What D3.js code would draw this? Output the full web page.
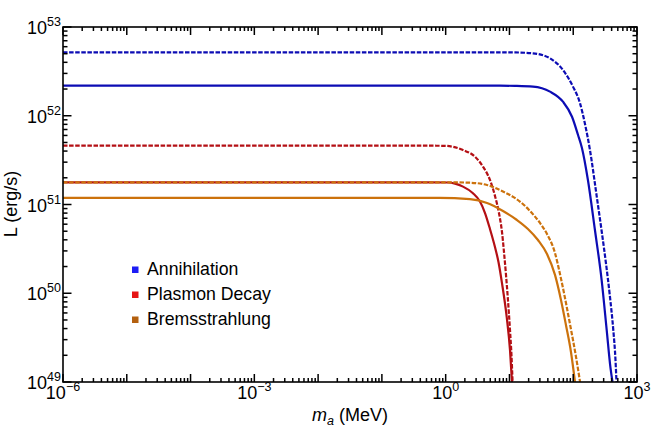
<!DOCTYPE html>
<html>
<head>
<meta charset="utf-8">
<script src="https://cdn.jsdelivr.net/npm/d3@7"></script>
<style>
  body { margin: 0; background: #fff; }
  svg { font-family: "Liberation Sans", Arial, sans-serif; }
</style>
</head>
<body>
<svg id="chart" width="664" height="431"></svg>
<script>
// curves: [m_a (MeV), L (erg/s)]
let annihilation_solid = [
  [1e-6, 2.18e52], [7.1, 2.18e52], [12.2, 2.17e52], [23.4, 2.13e52], [43.2, 1.87e52],
  [69.0, 1.44e52], [95.7, 9.75e51], [119, 6.07e51], [137, 4.34e51], [170, 1.89e51],
  [219, 5.16e50], [279, 1.41e50], [335, 3.85e49], [384, 1.44e49], [413, 1e49]
];
let annihilation_dashed = [
  [1e-6, 5.19e52], [7.1, 5.19e52], [12.2, 5.17e52], [23.4, 5.05e52], [43.2, 4.44e52],
  [69.0, 3.28e52], [99.1, 2.13e52], [128, 1.38e52], [153, 8.07e51], [183, 4.11e51],
  [233, 1.25e51], [279, 5.03e50], [327, 2.14e50], [377, 9.08e49], [425, 3.85e49],
  [460, 1.77e49], [477, 1e49]
];
let plasmon_solid = [
  [1e-6, 1.78e51], [0.6, 1.78e51], [1.09, 1.77e51], [1.40, 1.72e51], [1.87, 1.59e51],
  [2.68, 1.34e51], [3.45, 1.08e51], [4.14, 8.02e50], [4.95, 5.3e50], [5.93, 3.32e50],
  [6.73, 2.25e50], [7.64, 1.3e50], [9.06, 5.4e49], [10.2, 2.3e49], [10.96, 1e49]
];
let plasmon_dashed = [
  [1e-6, 4.6e51], [0.5, 4.6e51], [0.975, 4.58e51], [1.87, 4.11e51], [2.88, 3.46e51],
  [3.85, 2.67e51], [4.95, 1.89e51], [5.93, 1.25e51], [6.85, 8.02e50], [7.64, 4.9e50],
  [8.21, 2.92e50], [8.83, 1.61e50], [9.48, 8.39e49], [10.2, 3.85e49], [10.76, 2.01e49],
  [11.2, 1e49]
];
let brems_solid = [
  [1e-6, 1.19e51], [0.8, 1.19e51], [2.4, 1.15e51], [4.45, 1.04e51], [7.92, 8.45e50],
  [13.1, 6.69e50], [19.5, 5.3e50], [28.0, 3.98e50], [38.8, 2.77e50], [51.8, 1.61e50],
  [64.3, 8.39e49], [76.9, 4.39e49], [92.2, 2.18e49], [106.6, 1e49]
];
let brems_dashed = [
  [1e-6, 1.78e51], [1.0, 1.78e51], [2.4, 1.76e51], [4.45, 1.66e51], [7.92, 1.4e51],
  [11.4, 1.22e51], [14.6, 1.08e51], [21.0, 8.45e50], [30.1, 6.19e50], [38.8, 4.65e50],
  [51.8, 2.84e50], [62.0, 1.65e50], [71.6, 1.01e50], [88.9, 4.51e49], [110, 1.96e49],
  [128, 1e49]
];

let legend_names = ["Annihilation", "Plasmon Decay", "Bremsstrahlung"];
let legend_colors = ["#1d1df5", "#e61414", "#b4600f"];

let x_labels = [1e-6, 1e-3, 1, 1e3];
let y_labels = [1e49, 1e50, 1e51, 1e52, 1e53];
let x_decades = [-6, -5, -4, -3, -2, -1, 0, 1, 2, 3];
let y_decades = [49, 50, 51, 52, 53];
let minor_steps = [2, 3, 4, 5, 6, 7, 8, 9];

let svg = d3.select("#chart");
let pLeft = 63, pRight = 637, pTop = 27, pBottom = 382;

let x = d3.scaleLog().domain([1e-6, 1e3]).range([pLeft, pRight]);
let y = d3.scaleLog().domain([1e49, 1e53]).range([pBottom, pTop]);

// tick values as {v, major}
function tickList(decades){
  let out = [];
  decades.forEach((e, i) => {
    out.push({v: Math.pow(10, e), major: true});
    if (i < decades.length - 1) minor_steps.forEach(k => out.push({v: k * Math.pow(10, e), major: false}));
  });
  return out;
}
let xTicks = tickList(x_decades);
let yTicks = tickList(y_decades);

svg.append("clipPath").attr("id", "plotclip")
  .append("rect").attr("x", pLeft).attr("y", pTop)
  .attr("width", pRight - pLeft).attr("height", pBottom - pTop);

let curveLine = d3.line()
  .x(d => x(d[0]))
  .y(d => y(d[1]))
  .curve(d3.curveMonotoneX);

let curves = [
  {data: annihilation_solid, color: "#0c0cb4", dash: null},
  {data: annihilation_dashed, color: "#0c0cb4", dash: "4.5,1.6"},
  {data: plasmon_solid, color: "#b40f14", dash: null},
  {data: plasmon_dashed, color: "#b40f14", dash: "4.5,1.6"},
  {data: brems_solid, color: "#cc720c", dash: null},
  {data: brems_dashed, color: "#cc720c", dash: "4.5,1.6"}
];

let plot = svg.append("g").attr("clip-path", "url(#plotclip)");
plot.selectAll("path")
  .data(curves)
  .enter().append("path")
  .attr("d", d => curveLine(d.data))
  .attr("fill", "none")
  .attr("stroke", d => d.color)
  .attr("stroke-width", 2.2)
  .attr("stroke-dasharray", d => d.dash);

// inward ticks on all four sides
let tickG = svg.append("g");
tickG.selectAll("line.xb")
  .data(xTicks)
  .enter().append("line")
  .attr("class", "xb")
  .attr("x1", d => x(d.v)).attr("x2", d => x(d.v))
  .attr("y1", pBottom).attr("y2", d => pBottom - (d.major ? 8 : 4))
  .attr("stroke", "#000").attr("stroke-width", 1.5);
tickG.selectAll("line.xt")
  .data(xTicks)
  .enter().append("line")
  .attr("class", "xt")
  .attr("x1", d => x(d.v)).attr("x2", d => x(d.v))
  .attr("y1", pTop).attr("y2", d => pTop + (d.major ? 8 : 4))
  .attr("stroke", "#000").attr("stroke-width", 1.5);
tickG.selectAll("line.yl")
  .data(yTicks)
  .enter().append("line")
  .attr("class", "yl")
  .attr("y1", d => y(d.v)).attr("y2", d => y(d.v))
  .attr("x1", pLeft).attr("x2", d => pLeft + (d.major ? 8.5 : 4.5))
  .attr("stroke", "#000").attr("stroke-width", 1.5);
tickG.selectAll("line.yr")
  .data(yTicks)
  .enter().append("line")
  .attr("class", "yr")
  .attr("y1", d => y(d.v)).attr("y2", d => y(d.v))
  .attr("x1", pRight).attr("x2", d => pRight - (d.major ? 8.5 : 4.5))
  .attr("stroke", "#000").attr("stroke-width", 1.5);

svg.append("rect")
  .attr("x", pLeft).attr("y", pTop)
  .attr("width", pRight - pLeft).attr("height", pBottom - pTop)
  .attr("fill", "none").attr("stroke", "#000").attr("stroke-width", 1.6);

// tick labels 10^n
function expLabel(sel){
  sel.append("tspan").text("10");
  sel.append("tspan")
    .attr("dy", -8)
    .attr("font-size", 12.5)
    .text(d => String(Math.round(Math.log10(d))).replace("-", "\u2212"));
}
svg.append("g").selectAll("text")
  .data(x_labels)
  .enter().append("text")
  .attr("x", d => x(d))
  .attr("y", 399)
  .attr("text-anchor", "middle")
  .attr("font-size", 18)
  .call(expLabel);

svg.append("g").selectAll("text")
  .data(y_labels)
  .enter().append("text")
  .attr("x", 61)
  .attr("y", d => y(d) + 7)
  .attr("text-anchor", "end")
  .attr("font-size", 18)
  .call(expLabel);

// axis titles
let xt = svg.append("text")
  .attr("x", 350).attr("y", 421)
  .attr("text-anchor", "middle")
  .attr("font-size", 18);
xt.append("tspan").attr("font-style", "italic").text("m");
xt.append("tspan").attr("font-style", "italic").attr("font-size", 12.5).attr("dy", 4).text("a");
xt.append("tspan").attr("dy", -4).text(" (MeV)");

svg.append("text")
  .attr("transform", "translate(17,204) rotate(-90)")
  .attr("text-anchor", "middle")
  .attr("font-size", 18)
  .text("L (erg/s)");

// legend
let legend = svg.append("g").selectAll("g")
  .data(legend_names)
  .enter().append("g")
  .attr("transform", (d, i) => `translate(132,${269.5 + i * 25})`);
legend.append("rect")
  .attr("x", 0).attr("y", -3)
  .attr("width", 6.5).attr("height", 6.5)
  .attr("fill", (d, i) => legend_colors[i]);
legend.append("text")
  .attr("x", 15).attr("y", 5.5)
  .attr("font-size", 17.7)
  .text(d => d);
</script>
</body>
</html>
